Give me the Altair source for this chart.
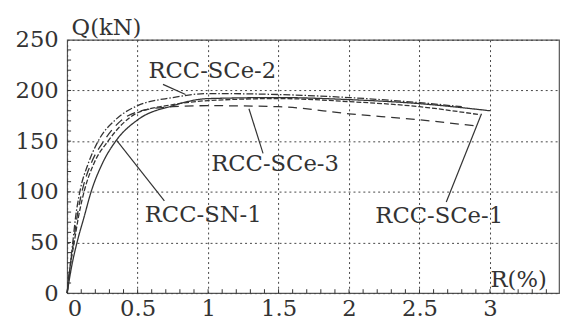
import altair as alt
import pandas as pd

# ---- data ----
sn1_x = [0, 0.03, 0.07, 0.12, 0.17, 0.25, 0.35, 0.5, 0.75, 1.0, 1.5, 2.0, 2.5, 3.0]
sn1_q = [0, 25, 50, 75, 100, 128, 151, 171, 185, 192, 193, 191, 187, 180]

sce1_x = [0, 0.02, 0.05, 0.08, 0.12, 0.19, 0.29, 0.4, 0.5, 0.75, 1.0, 1.5, 2.0, 2.5, 2.93]
sce1_q = [0, 25, 50, 75, 100, 128, 150, 168, 178, 186, 190, 192, 189, 184, 176]

sce2_x = [0, 0.02, 0.04, 0.06, 0.09, 0.15, 0.22, 0.35, 0.5, 0.75, 1.0, 1.5, 2.0, 2.5, 2.8]
sce2_q = [0, 25, 50, 75, 100, 128, 150, 172, 185, 193, 197, 196, 193, 188, 184]

sce3_x = [0, 0.02, 0.045, 0.07, 0.105, 0.17, 0.26, 0.38, 0.5, 0.75, 1.0, 1.5, 2.0, 2.5, 2.9]
sce3_q = [0, 25, 50, 75, 100, 128, 150, 170, 179, 184, 185, 184, 177, 171, 165]

series_names = ["RCC-SN-1", "RCC-SCe-1", "RCC-SCe-2", "RCC-SCe-3"]

label_text = ["RCC-SCe-2", "RCC-SCe-3", "RCC-SN-1", "RCC-SCe-1"]
label_x = [1.03, 1.475, 0.965, 2.64]
label_q = [219, 127, 77, 76]

leader_x = [0.68, 1.29, 0.35, 2.94]
leader_q = [206, 182, 151, 177]
leader_x2 = [0.84, 1.39, 0.69, 2.69]
leader_q2 = [196, 138, 91, 90]

x_ticks = [0, 0.5, 1, 1.5, 2, 2.5, 3]
y_ticks = [0, 50, 100, 150, 200, 250]
x_minor = [round(i * 0.1, 1) for i in range(1, 35)]
y_minor = [i * 10 for i in range(1, 25)]

# ---- build tables ----
rows = []
for name, xs, qs in [("RCC-SN-1", sn1_x, sn1_q), ("RCC-SCe-1", sce1_x, sce1_q),
                     ("RCC-SCe-2", sce2_x, sce2_q), ("RCC-SCe-3", sce3_x, sce3_q)]:
    for i, (a, b) in enumerate(zip(xs, qs)):
        rows.append({"series": name, "R": a, "Q": b, "order": i})
curves = pd.DataFrame(rows)
labels = pd.DataFrame({"text": label_text, "R": label_x, "Q": label_q})
leaders = pd.DataFrame({"R": leader_x, "Q": leader_q, "R2": leader_x2, "Q2": leader_q2})
xm = pd.DataFrame({"R": x_minor})
ym = pd.DataFrame({"Q": y_minor})

FONT = "DejaVu Serif"
INK = "#333333"
W, H = 499, 257

xscale = alt.Scale(domain=[0, 3.49], nice=False, zero=False)
yscale = alt.Scale(domain=[0, 250], nice=False)

xaxis = alt.Axis(values=x_ticks, format="~g", title="R(%)", titleX=429, titleY=-7,
                 titleAlign="left", titleBaseline="alphabetic", titleAnchor="start",
                 labelPadding=5, ticks=False, domain=False)
yaxis = alt.Axis(values=y_ticks, title="Q(kN)", titleAngle=0, titleX=4, titleY=-5,
                 titleAlign="left", titleBaseline="alphabetic", titleAnchor="start",
                 labelPadding=9, ticks=False, domain=False, labelBaseline="middle")

lines = alt.Chart(curves).mark_line(interpolate="monotone", strokeWidth=1.3, color=INK).encode(
    x=alt.X("R:Q", scale=xscale, axis=xaxis),
    y=alt.Y("Q:Q", scale=yscale, axis=yaxis),
    detail="series:N",
    order="order:Q",
    strokeDash=alt.StrokeDash("series:N", legend=None,
                              scale=alt.Scale(domain=series_names,
                                              range=[[1, 0], [5, 2], [7, 2, 1.5, 2], [9, 6]])),
)

xminor = alt.Chart(xm).mark_rule(color=INK, strokeWidth=1).encode(
    x=alt.X("R:Q", scale=xscale), y=alt.value(H), y2=alt.value(H - 4))
yminor = alt.Chart(ym).mark_rule(color=INK, strokeWidth=1).encode(
    y=alt.Y("Q:Q", scale=yscale), x=alt.value(0), x2=alt.value(4))

lead = alt.Chart(leaders).mark_rule(color=INK, strokeWidth=1.2).encode(
    x=alt.X("R:Q", scale=xscale), y=alt.Y("Q:Q", scale=yscale), x2="R2:Q", y2="Q2:Q")

txt = alt.Chart(labels).mark_text(font=FONT, fontSize=23, color=INK).encode(
    x=alt.X("R:Q", scale=xscale), y=alt.Y("Q:Q", scale=yscale), text="text:N")

chart = alt.layer(xminor, yminor, lines, lead, txt).properties(
    width=W, height=H,
    autosize=alt.AutoSizeParams(type="none"),
    padding={"left": 60, "top": 30, "right": 2, "bottom": 27},
    background="white",
).configure_view(stroke="#555555", strokeWidth=1.2).configure_axis(
    grid=True, gridDash=[2, 3], gridColor="#444444", gridWidth=1,
    labelFont=FONT, labelFontSize=23, labelColor=INK,
    titleFont=FONT, titleFontSize=23, titleColor=INK, titleFontWeight="normal",
)

chart.save("out.html", embed_options={"renderer": "svg", "actions": False})
